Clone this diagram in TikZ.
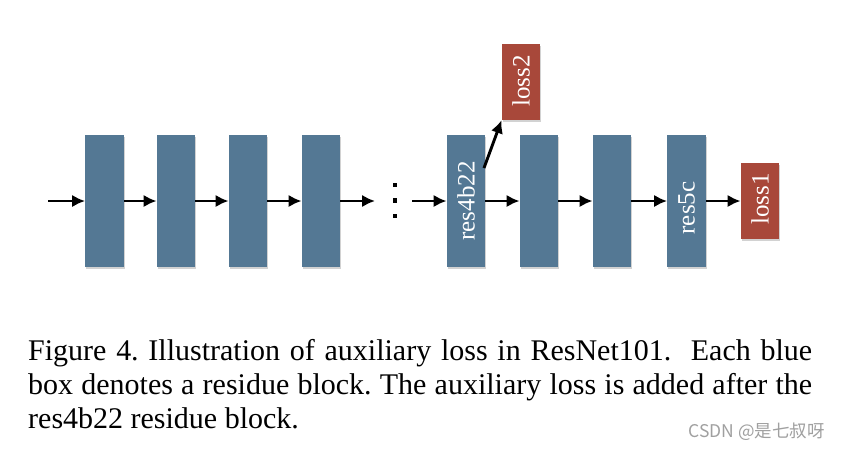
\documentclass[tikz,border=0pt]{standalone}
\usepackage{fontspec}
\setmainfont{Liberation Serif}
\newfontfamily\cjkfont{Noto Sans CJK SC}
\usetikzlibrary{arrows.meta,shadows}
\definecolor{resblue}{RGB}{84,120,148}
\definecolor{lossred}{RGB}{168,72,58}
\definecolor{wmgray}{RGB}{160,160,160}
\begin{document}
\begin{tikzpicture}[x=1pt,y=-1pt,
  blockshadow/.style={drop shadow={shadow xshift=1.2pt,shadow yshift=-1.6pt,opacity=0.35}},
  resblock/.style={rectangle,fill=resblue,minimum width=38.5pt,minimum height=132pt,inner sep=0,blockshadow},
  lossblock/.style={rectangle,fill=lossred,minimum width=38.5pt,minimum height=76pt,inner sep=0,blockshadow},
  lbl/.style={rotate=90,text=white,font=\fontsize{25}{25}\selectfont,inner sep=0},
  flow/.style={-{Latex[length=13pt,width=12.5pt]},line width=2.9pt},
  dotmark/.style={rectangle,fill=black,minimum size=4.8pt,inner sep=0}
]
\useasboundingbox (0,0) rectangle (841,451);
\fill[white] (0,0) rectangle (841,451);
% blocks
\node[resblock] (b1) at (104.5,201) {};
\node[resblock] (b2) at (176,201) {};
\node[resblock] (b3) at (248,201) {};
\node[resblock] (b4) at (321,201) {};
\node[resblock] (r4) at (466,201) {};
\node[resblock] (b6) at (539,201) {};
\node[resblock] (b7) at (612,201) {};
\node[resblock] (r5) at (686.5,201) {};
\node[lossblock] (l1) at (760,201) {};
\node[lossblock] (l2) at (521,82) {};
% labels
\node[lbl] (tr4) at (466,201) {res4b22};
\node[lbl] (tr5) at (686.5,208) {res5c};
\node[lbl] (tl1) at (760,199) {loss1};
\node[lbl] (tl2) at (521,81) {loss2};
% dots
\node[dotmark] (d1) at (395,185) {};
\node[dotmark] (d2) at (395,200.5) {};
\node[dotmark] (d3) at (395,216) {};
% connectors
\coordinate (in) at (48,201);
\coordinate (e4) at (375,201);
\coordinate (s5) at (412,201);
\coordinate (aux) at (484,168);
\draw[flow] (in) -- (b1.west);
\draw[flow] (b1.east) -- (b2.west);
\draw[flow] (b2.east) -- (b3.west);
\draw[flow] (b3.east) -- (b4.west);
\draw[flow] (b4.east) -- (e4);
\draw[flow] (s5) -- (r4.west);
\draw[flow] (r4.east) -- (b6.west);
\draw[flow] (b6.east) -- (b7.west);
\draw[flow] (b7.east) -- (r5.west);
\draw[flow] (r5.east) -- (l1.west);
\draw[flow] (aux) -- (l2.south west);
% caption
\node[anchor=north west,text width=784pt,align=justify,inner sep=0,font=\fontsize{30}{34}\selectfont\frenchspacing] (cap) at (28,339)
  {Figure 4. Illustration of auxiliary loss in ResNet101.~ Each blue\linebreak box denotes a residue block. The auxiliary loss is added after the\linebreak res4b22 residue block.};
\node[anchor=base east,text=wmgray,font=\cjkfont\fontsize{17.5}{17.5}\selectfont,inner sep=0] (wm) at (825,437) {CSDN @是七叔呀};
\end{tikzpicture}
\end{document}
